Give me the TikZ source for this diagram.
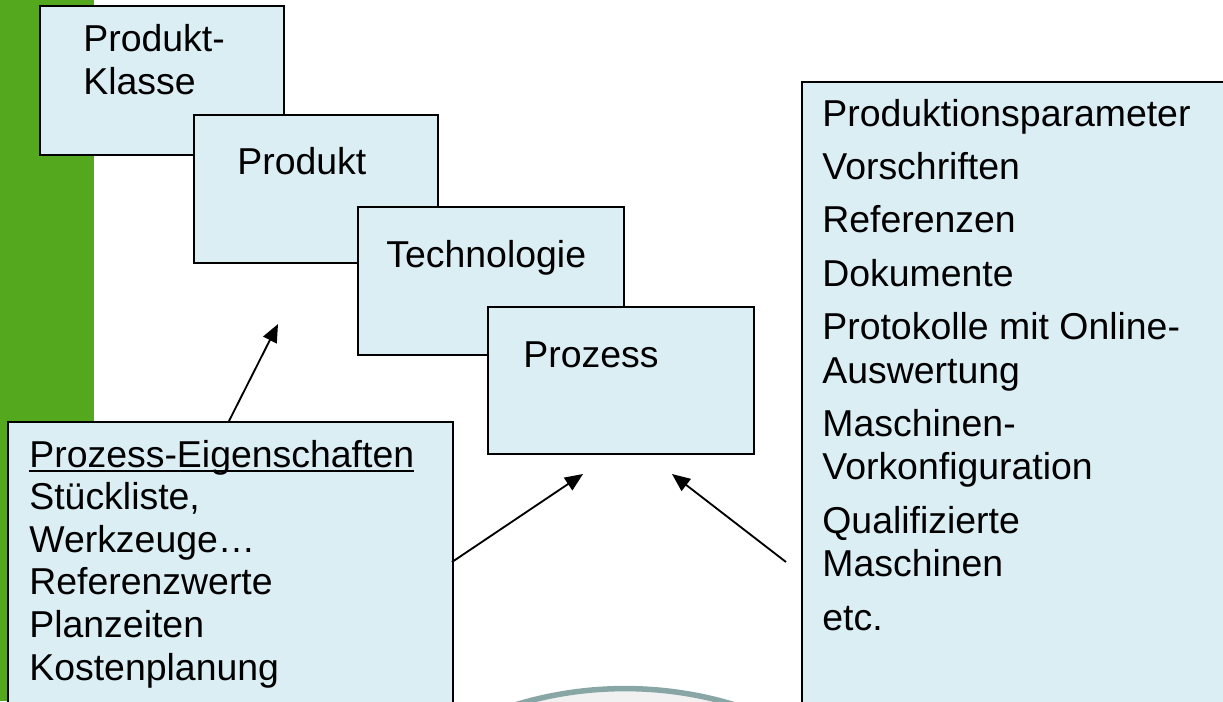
\documentclass[tikz,border=0pt]{standalone}
\usepackage{fontspec}
\setmainfont{Liberation Sans}
\usetikzlibrary{arrows.meta}
\newsavebox{\ulbox}
\newcommand{\unterstr}[1]{\sbox{\ulbox}{#1}\rlap{\rule[-2.6pt]{\wd\ulbox}{1.2pt}}\usebox{\ulbox}}
\definecolor{hellblau}{RGB}{219,238,244}
\definecolor{balken}{RGB}{84,168,30}
\definecolor{kreisrand}{RGB}{136,166,166}
\definecolor{kreisfuell}{RGB}{241,241,241}
\tikzset{
  kasten/.style={draw, line width=1.1pt, fill=hellblau, anchor=north west, inner sep=0pt},
  beschr/.style={anchor=base west, inner sep=0pt, align=left, font=\fontsize{21.3}{24.2}\selectfont},
  pfeil/.style={line width=1.05pt, -{Triangle[length=0.36cm,width=0.3cm]}},
}
\begin{document}
\begin{tikzpicture}[x=0.02cm,y=-0.02cm]
  \useasboundingbox (0,0) rectangle (1223,701);
  \clip (0,0) rectangle (1223,701);
  \fill[balken] (0,0) rectangle (94,701);

  % Stufen von oben nach unten (Textanker = letzte Grundlinie)
  \node[kasten, minimum width=4.88cm, minimum height=2.98cm] (klasse) at (39,5) {};
  \node[beschr] (klassetxt) at (83,94) {Produkt-\\Klasse};
  \node[kasten, minimum width=4.88cm, minimum height=2.96cm] (produkt) at (193,114) {};
  \node[beschr] (produkttxt) at (237,174) {Produkt};
  \node[kasten, minimum width=5.32cm, minimum height=2.96cm] (techno) at (357,206) {};
  \node[beschr] (technotxt) at (386,267) {Technologie};
  \node[kasten, minimum width=5.32cm, minimum height=2.94cm] (prozess) at (487,306) {};
  \node[beschr] (prozesstxt) at (523,367) {Prozess};

  % Eigenschaften links
  \node[kasten, minimum width=8.9cm, minimum height=6cm] (eigensch) at (7,421) {};
  \node[beschr] (eigenschtxt) at (29,680)
    {\unterstr{Prozess-Eigenschaften}\\Stückliste,\\Werkzeuge…\\Referenzwerte\\Planzeiten\\Kostenplanung};

  % Parameter rechts
  \node[kasten, minimum width=8.7cm, minimum height=12.8cm] (param) at (801,81) {};
  \node[beschr, font=\fontsize{21.3}{24.7}\selectfont] (paramtxt) at (822,630)
    {Produktionsparameter\\[0.2cm]Vorschriften\\[0.2cm]Referenzen\\[0.2cm]Dokumente\\[0.2cm]%
     Protokolle mit Online-\\Auswertung\\[0.2cm]Maschinen-\\Vorkonfiguration\\[0.2cm]%
     Qualifizierte\\Maschinen\\[0.2cm]etc.};

  % Kreis unten
  \draw[line width=0.11cm, draw=kreisrand, fill=kreisfuell] (625,1064) circle[radius=7.51cm];

  % Pfeile
  \coordinate (e1) at (229,421);
  \coordinate (z1) at (278,324);
  \coordinate (e2) at (452,562);
  \coordinate (z2) at (583,474);
  \coordinate (e3) at (786,562);
  \coordinate (z3) at (672,474);
  \draw[pfeil] (e1) -- (z1);
  \draw[pfeil] (e2) -- (z2);
  \draw[pfeil] (e3) -- (z3);
\end{tikzpicture}
\end{document}
